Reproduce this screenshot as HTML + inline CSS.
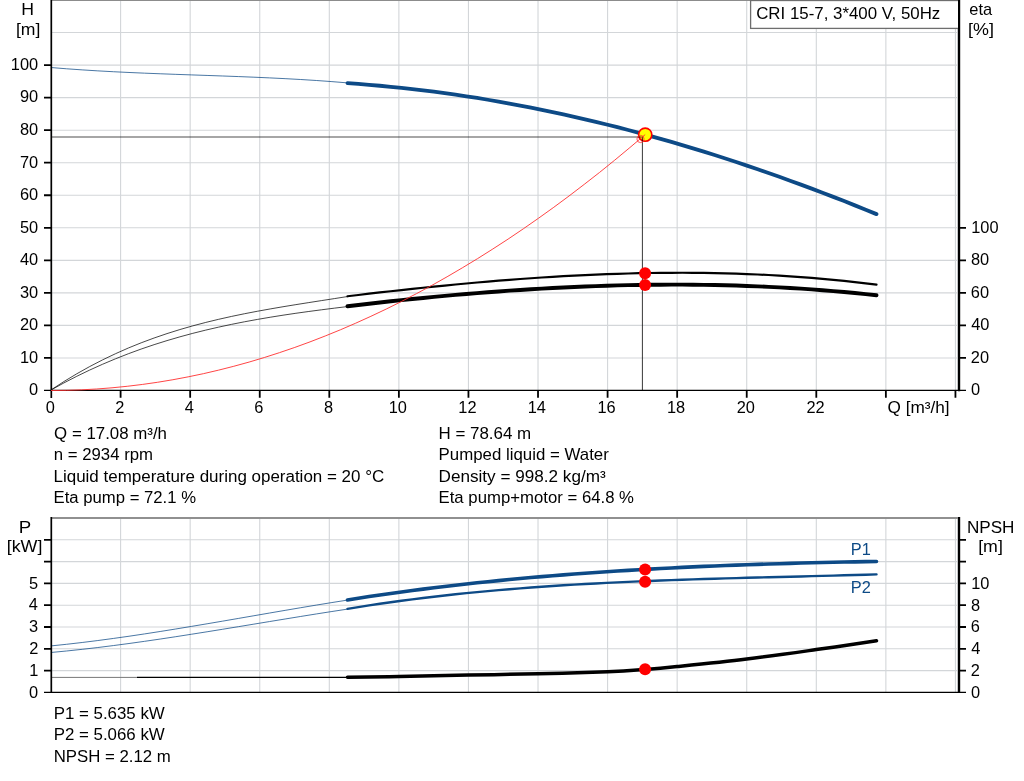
<!DOCTYPE html>
<html lang="en"><head><meta charset="utf-8"><title>CRI 15-7 pump curve</title>
<style>
html,body{margin:0;padding:0;background:#fff;}
body{width:1024px;height:781px;overflow:hidden;}
svg{display:block;font-family:'Liberation Sans', Arial, sans-serif;font-size:16px;}
.t{font-size:15.6px;}
</style></head><body>
<svg width="1024" height="781" viewBox="0 0 1024 781">
<rect width="1024" height="781" fill="#fff"/>
<path d="M120.60 0.50 V390.40 M190.17 0.50 V390.40 M259.74 0.50 V390.40 M329.31 0.50 V390.40 M398.88 0.50 V390.40 M468.45 0.50 V390.40 M538.02 0.50 V390.40 M607.59 0.50 V390.40 M677.16 0.50 V390.40 M746.73 0.50 V390.40 M816.30 0.50 V390.40 M885.87 0.50 V390.40 M955.44 0.50 V390.40 M51.30 357.96 H957 M51.30 325.42 H957 M51.30 292.88 H957 M51.30 260.34 H957 M51.30 227.80 H957 M51.30 195.26 H957 M51.30 162.72 H957 M51.30 130.18 H957 M51.30 97.64 H957 M51.30 65.10 H957 M51.30 32.56 H957" stroke="#d3d6d9" stroke-width="1.1" fill="none" />
<path d="M957.5 29 V390" stroke="#c4c6c8" stroke-width="1" fill="none" />
<path d="M51 0.5 H959" stroke="#8c8c8c" stroke-width="1.1" fill="none" />
<path d="M51.0 67.53 L66.6 68.79 L82.2 69.89 L97.8 70.86 L113.4 71.72 L129.0 72.48 L144.6 73.16 L160.2 73.78 L175.8 74.35 L191.4 74.90 L207.1 75.44 L222.7 75.99 L238.3 76.57 L253.9 77.20 L269.5 77.88 L285.1 78.65 L300.7 79.51 L316.3 80.49 L331.9 81.61 L347.5 82.88" stroke="#0d4a86" stroke-width="1" fill="none" opacity="0.75"/>
<path d="M51.0 389.95 L63.9 381.56 L76.8 373.77 L89.7 366.55 L102.6 359.87 L115.5 353.71 L128.3 348.03 L141.2 342.81 L154.1 338.01 L167.0 333.60 L179.9 329.56 L192.8 325.85 L205.7 322.45 L218.6 319.32 L231.5 316.43 L244.4 313.76 L257.3 311.27 L270.2 308.94 L283.0 306.74 L295.9 304.63 L308.8 302.58 L321.7 300.57 L334.6 298.57 L347.5 296.54" stroke="#000" stroke-width="0.9" fill="none" opacity="0.8"/>
<path d="M51.0 390.02 L63.9 382.93 L76.8 376.28 L89.7 370.06 L102.6 364.24 L115.5 358.81 L128.3 353.75 L141.2 349.04 L154.1 344.66 L167.0 340.60 L179.9 336.83 L192.8 333.34 L205.7 330.11 L218.6 327.13 L231.5 324.37 L244.4 321.81 L257.3 319.44 L270.2 317.24 L283.0 315.19 L295.9 313.27 L308.8 311.47 L321.7 309.77 L334.6 308.14 L347.5 306.57" stroke="#000" stroke-width="0.9" fill="none" opacity="0.8"/>
<path d="M347.5 83.18 L358.3 83.95 L369.1 84.80 L379.9 85.74 L390.7 86.77 L401.5 87.88 L412.3 89.07 L423.1 90.35 L433.9 91.71 L444.7 93.15 L455.5 94.68 L466.3 96.29 L477.1 97.98 L487.8 99.75 L498.6 101.61 L509.4 103.54 L520.2 105.55 L531.0 107.65 L541.8 109.82 L552.6 112.07 L563.4 114.40 L574.2 116.81 L585.0 119.30 L595.8 121.86 L606.6 124.50 L617.4 127.21 L628.2 130.00 L639.0 132.87 L649.8 135.81 L660.6 138.83 L671.4 141.92 L682.2 145.08 L693.0 148.32 L703.8 151.63 L714.6 155.01 L725.4 158.47 L736.2 161.99 L746.9 165.59 L757.7 169.26 L768.5 172.99 L779.3 176.80 L790.1 180.68 L800.9 184.62 L811.7 188.64 L822.5 192.72 L833.3 196.87 L844.1 201.08 L854.9 205.37 L865.7 209.72 L876.5 214.13" stroke="#0d4a86" stroke-width="3.8" fill="none" stroke-linecap="round"/>
<path d="M347.5 296.28 L358.3 294.98 L369.1 293.71 L379.9 292.46 L390.7 291.23 L401.5 290.04 L412.3 288.87 L423.1 287.73 L433.9 286.62 L444.7 285.54 L455.5 284.50 L466.3 283.49 L477.1 282.52 L487.8 281.58 L498.6 280.69 L509.4 279.83 L520.2 279.02 L531.0 278.25 L541.8 277.52 L552.6 276.84 L563.4 276.21 L574.2 275.62 L585.0 275.09 L595.8 274.61 L606.6 274.18 L617.4 273.80 L628.2 273.48 L639.0 273.22 L649.8 273.02 L660.6 272.87 L671.4 272.79 L682.2 272.77 L693.0 272.81 L703.8 272.92 L714.6 273.09 L725.4 273.33 L736.2 273.65 L746.9 274.03 L757.7 274.48 L768.5 275.01 L779.3 275.62 L790.1 276.30 L800.9 277.05 L811.7 277.89 L822.5 278.81 L833.3 279.80 L844.1 280.89 L854.9 282.05 L865.7 283.30 L876.5 284.64" stroke="#000" stroke-width="2.2" fill="none" stroke-linecap="round"/>
<path d="M347.5 306.22 L358.3 304.95 L369.1 303.70 L379.9 302.49 L390.7 301.31 L401.5 300.16 L412.3 299.04 L423.1 297.96 L433.9 296.91 L444.7 295.91 L455.5 294.93 L466.3 294.00 L477.1 293.11 L487.8 292.25 L498.6 291.44 L509.4 290.67 L520.2 289.94 L531.0 289.25 L541.8 288.61 L552.6 288.01 L563.4 287.46 L574.2 286.95 L585.0 286.50 L595.8 286.09 L606.6 285.73 L617.4 285.42 L628.2 285.16 L639.0 284.95 L649.8 284.80 L660.6 284.70 L671.4 284.65 L682.2 284.66 L693.0 284.73 L703.8 284.85 L714.6 285.03 L725.4 285.27 L736.2 285.57 L746.9 285.93 L757.7 286.35 L768.5 286.84 L779.3 287.38 L790.1 287.99 L800.9 288.67 L811.7 289.41 L822.5 290.21 L833.3 291.09 L844.1 292.03 L854.9 293.04 L865.7 294.12 L876.5 295.28" stroke="#000" stroke-width="3.9" fill="none" stroke-linecap="round"/>
<rect x="750.6" y="0.5" width="208.6" height="27.9" fill="#fff" stroke="#6e6e6e" stroke-width="1.3"/>
<path d="M51.30 0 V398" stroke="#000" stroke-width="1.7" fill="none" />
<path d="M959.10 0 V391.2" stroke="#000" stroke-width="2.2" fill="none" />
<path d="M44 390.40 H966" stroke="#000" stroke-width="1.4" fill="none" />
<path d="M44 357.96 H51 M44 325.42 H51 M44 292.88 H51 M44 260.34 H51 M44 227.80 H51 M44 195.26 H51 M44 162.72 H51 M44 130.18 H51 M44 97.64 H51 M44 65.10 H51 M120.60 390 V397.8 M190.17 390 V397.8 M259.74 390 V397.8 M329.31 390 V397.8 M398.88 390 V397.8 M468.45 390 V397.8 M538.02 390 V397.8 M607.59 390 V397.8 M677.16 390 V397.8 M746.73 390 V397.8 M816.30 390 V397.8 M885.87 390 V397.8 M955.44 390 V397.8 M959 357.96 H966 M959 325.42 H966 M959 292.88 H966 M959 260.34 H966 M959 227.80 H966" stroke="#000" stroke-width="1.8" fill="none" />
<circle cx="645.2" cy="134.7" r="6.6" fill="#ffff00" stroke="#ff0000" stroke-width="1.6"/>
<path d="M52 137 H641.5" stroke="#000" stroke-width="1.8" fill="none" opacity="0.35"/>
<path d="M642.4 136.5 V390" stroke="#000" stroke-width="1" fill="none" opacity="0.78"/>
<path d="M51.0 390.50 L66.3 390.33 L81.5 389.83 L96.7 388.99 L112.0 387.81 L127.2 386.29 L142.4 384.44 L157.7 382.26 L172.9 379.73 L188.1 376.87 L203.4 373.68 L218.6 370.14 L233.8 366.27 L249.1 362.07 L264.3 357.52 L279.5 352.65 L294.8 347.43 L310.0 341.88 L325.2 335.99 L340.5 329.76 L355.7 323.20 L370.9 316.31 L386.2 309.07 L401.4 301.50 L416.6 293.59 L431.9 285.35 L447.1 276.77 L462.3 267.85 L477.6 258.60 L492.8 249.01 L508.1 239.08 L523.3 228.82 L538.5 218.22 L553.8 207.28 L569.0 196.01 L584.2 184.40 L599.5 172.46 L614.7 160.18 L629.9 147.56 L645.2 134.60" stroke="#ff3030" stroke-width="0.9" fill="none" />
<circle cx="640.5" cy="139" r="3.6" stroke="#ff3030" stroke-width="0.8" fill="none"/>
<circle cx="645.1" cy="273.3" r="6" fill="#ff0000"/>
<circle cx="645.1" cy="285" r="6" fill="#ff0000"/>
<text transform="translate(756.16 18.80) scale(1.0549 1)" fill="#000">CRI 15-7, 3*400 V, 50Hz</text>
<text transform="translate(21.36 15.00) scale(1.1061 1)" fill="#000">H</text>
<text transform="translate(15.99 35.00) scale(1.1000 1)" fill="#000">[m]</text>
<text transform="translate(969.33 15.00) scale(1.0278 1)" fill="#000">eta</text>
<text transform="translate(968.07 35.00) scale(1.1196 1)" fill="#000">[%]</text>
<text class="t" transform="translate(29.00 395.30) scale(1.050 1)">0</text>
<text class="t" transform="translate(19.89 362.76) scale(1.050 1)">10</text>
<text class="t" transform="translate(19.89 330.22) scale(1.050 1)">20</text>
<text class="t" transform="translate(19.89 297.68) scale(1.050 1)">30</text>
<text class="t" transform="translate(19.89 265.14) scale(1.050 1)">40</text>
<text class="t" transform="translate(19.89 232.60) scale(1.050 1)">50</text>
<text class="t" transform="translate(19.89 200.06) scale(1.050 1)">60</text>
<text class="t" transform="translate(19.89 167.52) scale(1.050 1)">70</text>
<text class="t" transform="translate(19.89 134.98) scale(1.050 1)">80</text>
<text class="t" transform="translate(19.89 102.44) scale(1.050 1)">90</text>
<text class="t" transform="translate(10.78 69.90) scale(1.050 1)">100</text>
<text class="t" transform="translate(45.67 412.80) scale(1.050 1)">0</text>
<text class="t" transform="translate(115.24 412.80) scale(1.050 1)">2</text>
<text class="t" transform="translate(184.87 412.80) scale(1.050 1)">4</text>
<text class="t" transform="translate(254.33 412.80) scale(1.050 1)">6</text>
<text class="t" transform="translate(323.95 412.80) scale(1.050 1)">8</text>
<text class="t" transform="translate(388.66 412.80) scale(1.050 1)">10</text>
<text class="t" transform="translate(458.33 412.80) scale(1.050 1)">12</text>
<text class="t" transform="translate(527.72 412.80) scale(1.050 1)">14</text>
<text class="t" transform="translate(597.42 412.80) scale(1.050 1)">16</text>
<text class="t" transform="translate(666.97 412.80) scale(1.050 1)">18</text>
<text class="t" transform="translate(736.72 412.80) scale(1.050 1)">20</text>
<text class="t" transform="translate(806.39 412.80) scale(1.050 1)">22</text>
<rect x="884" y="399" width="70" height="22" fill="#fff"/>
<text transform="translate(887.49 412.60) scale(1.0760 1)" fill="#000">Q [m³/h]</text>
<text class="t" transform="translate(970.99 395.30) scale(1.050 1)">0</text>
<text class="t" transform="translate(970.78 362.76) scale(1.050 1)">20</text>
<text class="t" transform="translate(971.24 330.22) scale(1.050 1)">40</text>
<text class="t" transform="translate(970.78 297.68) scale(1.050 1)">60</text>
<text class="t" transform="translate(970.93 265.14) scale(1.050 1)">80</text>
<text class="t" transform="translate(971.27 232.60) scale(1.050 1)">100</text>
<text transform="translate(54.11 438.60) scale(1.0541 1)" fill="#000">Q = 17.08 m³/h</text>
<text transform="translate(53.80 460.20) scale(1.0480 1)" fill="#000">n = 2934 rpm</text>
<text transform="translate(53.52 481.70) scale(1.0605 1)" fill="#000">Liquid temperature during operation = 20 °C</text>
<text transform="translate(53.54 503.20) scale(1.0445 1)" fill="#000">Eta pump = 72.1 %</text>
<text transform="translate(438.52 438.60) scale(1.0581 1)" fill="#000">H = 78.64 m</text>
<text transform="translate(438.53 460.20) scale(1.0537 1)" fill="#000">Pumped liquid = Water</text>
<text transform="translate(438.51 481.70) scale(1.0718 1)" fill="#000">Density = 998.2 kg/m³</text>
<text transform="translate(438.54 503.20) scale(1.0468 1)" fill="#000">Eta pump+motor = 64.8 %</text>
<path d="M120.60 517.80 V692.40 M190.17 517.80 V692.40 M259.74 517.80 V692.40 M329.31 517.80 V692.40 M398.88 517.80 V692.40 M468.45 517.80 V692.40 M538.02 517.80 V692.40 M607.59 517.80 V692.40 M677.16 517.80 V692.40 M746.73 517.80 V692.40 M816.30 517.80 V692.40 M885.87 517.80 V692.40 M955.44 517.80 V692.40 M51.30 670.60 H957 M51.30 648.80 H957 M51.30 627.00 H957 M51.30 605.20 H957 M51.30 583.40 H957 M51.30 561.60 H957 M51.30 539.80 H957" stroke="#d3d6d9" stroke-width="1.1" fill="none" />
<path d="M957.5 518 V692" stroke="#c4c6c8" stroke-width="1" fill="none" />
<path d="M51 518 H960" stroke="#909090" stroke-width="1.8" fill="none" />
<path d="M51.0 645.92 L66.6 644.29 L82.2 642.49 L97.8 640.54 L113.4 638.45 L129.0 636.24 L144.6 633.92 L160.2 631.49 L175.8 628.99 L191.4 626.42 L207.1 623.79 L222.7 621.13 L238.3 618.44 L253.9 615.74 L269.5 613.04 L285.1 610.36 L300.7 607.71 L316.3 605.10 L331.9 602.56 L347.5 600.09" stroke="#0d4a86" stroke-width="1" fill="none" opacity="0.75"/>
<path d="M51.0 652.49 L66.6 650.99 L82.2 649.33 L97.8 647.52 L113.4 645.57 L129.0 643.50 L144.6 641.32 L160.2 639.05 L175.8 636.69 L191.4 634.26 L207.1 631.78 L222.7 629.26 L238.3 626.70 L253.9 624.13 L269.5 621.56 L285.1 619.00 L300.7 616.46 L316.3 613.96 L331.9 611.51 L347.5 609.12" stroke="#0d4a86" stroke-width="1" fill="none" opacity="0.75"/>
<path d="M52 677.4 H137" stroke="#777" stroke-width="1" fill="none" />
<path d="M137 677.4 H348" stroke="#000" stroke-width="1.1" fill="none" />
<path d="M347.5 599.91 L358.3 598.23 L369.1 596.59 L379.9 595.01 L390.7 593.47 L401.5 591.98 L412.3 590.54 L423.1 589.14 L433.9 587.79 L444.7 586.49 L455.5 585.23 L466.3 584.01 L477.1 582.83 L487.8 581.70 L498.6 580.60 L509.4 579.55 L520.2 578.53 L531.0 577.55 L541.8 576.61 L552.6 575.71 L563.4 574.84 L574.2 574.01 L585.0 573.21 L595.8 572.44 L606.6 571.71 L617.4 571.01 L628.2 570.34 L639.0 569.69 L649.8 569.08 L660.6 568.50 L671.4 567.94 L682.2 567.41 L693.0 566.90 L703.8 566.42 L714.6 565.96 L725.4 565.53 L736.2 565.12 L746.9 564.73 L757.7 564.36 L768.5 564.01 L779.3 563.68 L790.1 563.37 L800.9 563.07 L811.7 562.80 L822.5 562.53 L833.3 562.29 L844.1 562.05 L854.9 561.83 L865.7 561.62 L876.5 561.43" stroke="#0d4a86" stroke-width="3.6" fill="none" stroke-linecap="round"/>
<path d="M347.5 608.89 L358.3 607.13 L369.1 605.43 L379.9 603.81 L390.7 602.26 L401.5 600.77 L412.3 599.35 L423.1 598.00 L433.9 596.70 L444.7 595.46 L455.5 594.29 L466.3 593.17 L477.1 592.10 L487.8 591.08 L498.6 590.12 L509.4 589.21 L520.2 588.34 L531.0 587.52 L541.8 586.74 L552.6 586.00 L563.4 585.30 L574.2 584.65 L585.0 584.02 L595.8 583.44 L606.6 582.88 L617.4 582.36 L628.2 581.86 L639.0 581.39 L649.8 580.95 L660.6 580.53 L671.4 580.14 L682.2 579.76 L693.0 579.40 L703.8 579.06 L714.6 578.73 L725.4 578.42 L736.2 578.12 L746.9 577.82 L757.7 577.54 L768.5 577.25 L779.3 576.98 L790.1 576.70 L800.9 576.43 L811.7 576.15 L822.5 575.87 L833.3 575.59 L844.1 575.30 L854.9 574.99 L865.7 574.68 L876.5 574.36" stroke="#0d4a86" stroke-width="2.4" fill="none" stroke-linecap="round"/>
<path d="M347.5 677.30 C356.1 677.17 378.9 676.87 399.0 676.50 C419.1 676.13 445.2 675.56 468.4 675.10 C491.6 674.64 514.8 674.30 538.0 673.75 C561.2 673.20 589.8 672.51 607.6 671.80 C625.5 671.09 633.5 670.37 645.1 669.50 C656.7 668.63 660.2 668.35 677.1 666.60 C694.0 664.85 723.5 661.83 746.7 659.00 C769.9 656.17 794.7 652.63 816.3 649.60 C837.9 646.57 866.5 642.27 876.5 640.80" stroke="#000" stroke-width="3.5" fill="none" stroke-linecap="round"/>
<path d="M51.30 517 V693" stroke="#000" stroke-width="1.7" fill="none" />
<path d="M959.10 517 V693" stroke="#000" stroke-width="2.2" fill="none" />
<path d="M44 692.40 H966" stroke="#000" stroke-width="1.25" fill="none" />
<path d="M44 670.60 H51 M959 670.60 H966 M44 648.80 H51 M959 648.80 H966 M44 627.00 H51 M959 627.00 H966 M44 605.20 H51 M959 605.20 H966 M44 583.40 H51 M959 583.40 H966 M44 561.60 H51 M959 561.60 H966 M44 539.80 H51 M959 539.80 H966" stroke="#000" stroke-width="1.8" fill="none" />
<circle cx="645.1" cy="569.6" r="6" fill="#ff0000"/>
<circle cx="645.1" cy="581.8" r="6" fill="#ff0000"/>
<circle cx="645.1" cy="669.3" r="6" fill="#ff0000"/>
<text transform="translate(850.77 555.00) scale(1.0229 1)" fill="#0d4a86">P1</text>
<text transform="translate(850.77 593.40) scale(1.0258 1)" fill="#0d4a86">P2</text>
<text transform="translate(18.78 532.60) scale(1.1696 1)" fill="#000">P</text>
<text transform="translate(6.77 551.70) scale(1.1141 1)" fill="#000">[kW]</text>
<text transform="translate(966.91 532.60) scale(1.0705 1)" fill="#000">NPSH</text>
<text transform="translate(978.18 551.70) scale(1.1100 1)" fill="#000">[m]</text>
<text class="t" transform="translate(29.00 697.50) scale(1.050 1)">0</text>
<text class="t" transform="translate(29.16 675.70) scale(1.050 1)">1</text>
<text class="t" transform="translate(29.21 653.90) scale(1.050 1)">2</text>
<text class="t" transform="translate(29.11 632.10) scale(1.050 1)">3</text>
<text class="t" transform="translate(28.85 610.30) scale(1.050 1)">4</text>
<text class="t" transform="translate(29.05 588.50) scale(1.050 1)">5</text>
<text class="t" transform="translate(970.99 697.70) scale(1.050 1)">0</text>
<text class="t" transform="translate(970.78 675.90) scale(1.050 1)">2</text>
<text class="t" transform="translate(971.24 654.10) scale(1.050 1)">4</text>
<text class="t" transform="translate(970.78 632.30) scale(1.050 1)">6</text>
<text class="t" transform="translate(970.93 610.50) scale(1.050 1)">8</text>
<text class="t" transform="translate(971.27 588.70) scale(1.050 1)">10</text>
<text transform="translate(53.63 718.60) scale(1.0553 1)" fill="#000">P1 = 5.635 kW</text>
<text transform="translate(53.63 739.90) scale(1.0553 1)" fill="#000">P2 = 5.066 kW</text>
<text transform="translate(53.63 761.80) scale(1.0508 1)" fill="#000">NPSH = 2.12 m</text>
</svg>
</body></html>
